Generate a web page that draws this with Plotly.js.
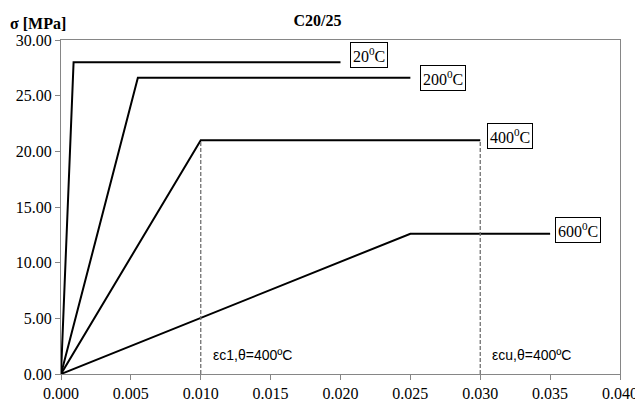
<!DOCTYPE html>
<html>
<head>
<meta charset="utf-8">
<script src="https://cdn.plot.ly/plotly-3.0.1.min.js"></script>
<style>html,body{margin:0;padding:0;background:#fff;}#chart{width:635px;height:407px;}</style>
</head>
<body>
<div id="chart"></div>
<script>
// Data
const seriesNames = ["20<sup>0</sup>C", "200<sup>0</sup>C", "400<sup>0</sup>C", "600<sup>0</sup>C"];
const eps20 = [0, 0.0009, 0.020];
const sig20 = [0, 28.0, 28.0];
const eps200 = [0, 0.0055, 0.025];
const sig200 = [0, 26.6, 26.6];
const eps400 = [0, 0.010, 0.030];
const sig400 = [0, 21.0, 21.0];
const eps600 = [0, 0.025, 0.035];
const sig600 = [0, 12.6, 12.6];
const markerEps = [0.010, 0.030];
const markerSig = [21.0, 21.0];
const markerLabels = ["εc1,θ=400ºC", "εcu,θ=400ºC"];
const xTicks = [0, 0.005, 0.010, 0.015, 0.020, 0.025, 0.030, 0.035, 0.040];
const yTicks = [0, 5, 10, 15, 20, 25, 30];

const allEps = [eps20, eps200, eps400, eps600];
const allSig = [sig20, sig200, sig400, sig600];

const traces = [];
allEps.forEach((e, i) => {
  traces.push({x: e, y: allSig[i], type: 'scatter', mode: 'lines',
    line: {color: '#000', width: 2}, showlegend: false, hoverinfo: 'skip', cliponaxis: false});
});
markerEps.forEach((e, i) => {
  traces.push({x: [e, e], y: [0, markerSig[i]], type: 'scatter', mode: 'lines',
    line: {color: '#707070', width: 1.3, dash: '4px,2px'}, showlegend: false, hoverinfo: 'skip'});
});

const serif = 'Liberation Serif, Times New Roman, serif';
const annotations = [];
const labelOffsets = [[9, 7], [10, 0], [7, 4], [5, 4]];
allEps.forEach((e, i) => {
  annotations.push({x: e[e.length - 1], y: allSig[i][allSig[i].length - 1], xref: 'x', yref: 'y',
    text: seriesNames[i], showarrow: false, xanchor: 'left', yanchor: 'middle',
    xshift: labelOffsets[i][0], yshift: labelOffsets[i][1],
    font: {family: serif, size: 16, color: '#000'},
    bordercolor: '#000', borderwidth: 1, borderpad: 2, bgcolor: '#fff'});
});
markerEps.forEach((e, i) => {
  annotations.push({x: e, y: 1.7, xref: 'x', yref: 'y', text: markerLabels[i], showarrow: false,
    xanchor: 'left', yanchor: 'middle', xshift: 10,
    font: {family: 'Liberation Sans, Arial, sans-serif', size: 14, color: '#000'}});
});
annotations.push({x: 0, y: 1, xref: 'paper', yref: 'paper', text: '<b>σ [MPa]</b>', showarrow: false,
  xanchor: 'left', yanchor: 'bottom', xshift: -53, yshift: 6,
  font: {family: serif, size: 16, color: '#000'}});
annotations.push({x: 1, y: 0, xref: 'paper', yref: 'paper', text: '<b>ε</b>', showarrow: false,
  xanchor: 'left', yanchor: 'top', xshift: 4, yshift: -27,
  font: {family: serif, size: 14, color: '#000'}});

const layout = {
  width: 635, height: 407,
  margin: {l: 60.5, r: 15, t: 39.5, b: 33},
  paper_bgcolor: '#fff', plot_bgcolor: '#fff',
  title: {text: '<b>C20/25</b>', x: 0.5, xref: 'container', y: 0.951, yref: 'container', yanchor: 'middle',
    font: {family: serif, size: 16, color: '#000'}},
  xaxis: {range: [0, 0.04000001], tickvals: xTicks, ticktext: xTicks.map(v => v.toFixed(3)),
    showgrid: false, zeroline: false, showline: true, linecolor: '#868686', linewidth: 1,
    mirror: true, ticks: 'outside', ticklen: 5, tickcolor: '#868686', ticklabeloverflow: 'allow',
    tickfont: {family: serif, size: 16, color: '#000'}},
  yaxis: {range: [0, 30.000001], tickvals: yTicks, ticktext: yTicks.map(v => v.toFixed(2)),
    showgrid: false, zeroline: false, showline: true, linecolor: '#868686', linewidth: 1,
    mirror: true, ticks: 'outside', ticklen: 5, tickcolor: '#868686', ticklabeloverflow: 'allow',
    tickfont: {family: serif, size: 16, color: '#000'}},
  annotations: annotations
};
Plotly.newPlot('chart', traces, layout, {staticPlot: true, displayModeBar: false});
</script>
</body>
</html>
